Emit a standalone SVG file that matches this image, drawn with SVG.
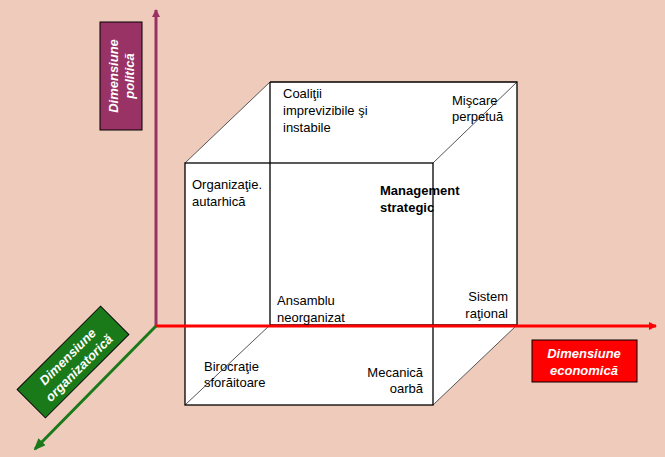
<svg xmlns="http://www.w3.org/2000/svg" width="665" height="457" viewBox="0 0 665 457">
<style>
text{font-family:"Liberation Sans",Arial,sans-serif;font-size:13px;fill:#000}
.lab{fill:#fff;font-weight:bold;font-style:italic;font-size:13px;text-anchor:middle}
.e{stroke:#000;stroke-width:1.3;fill:none}
.d{stroke:#555;stroke-width:1;fill:none}
</style>
<defs>
<marker id="ap" markerWidth="8" markerHeight="8" refX="7" refY="4" orient="auto" markerUnits="userSpaceOnUse"><path d="M0,0L8,4L0,8z" fill="#993366"/></marker>
<marker id="ar" markerWidth="8" markerHeight="8" refX="7" refY="4" orient="auto" markerUnits="userSpaceOnUse"><path d="M0,0L8,4L0,8z" fill="#ff0000"/></marker>
<marker id="ag" markerWidth="12" markerHeight="10" refX="10" refY="5" orient="auto" markerUnits="userSpaceOnUse"><path d="M0,0L12,5L0,10z" fill="#1a7a1a"/></marker>
</defs>
<rect width="665" height="457" fill="#efcbbb"/>
<g id="cube">
<path d="M185,163L270,82L517,82L517,325L433,405L185,405z" fill="#fff"/>
<path class="d" d="M185,163L270,82M433,163L517,82M433,405L517,325M185,405L270,325"/>
<path class="e" d="M270,82L517,82L517,325M270,82L270,325L517,325"/>
<rect class="e" x="185" y="163" width="248" height="242"/>
</g>
<g id="connectors">
<line x1="156" y1="326" x2="156" y2="10" stroke="#993366" stroke-width="3" marker-end="url(#ap)"/>
<line x1="156" y1="326" x2="656" y2="326" stroke="#ff0000" stroke-width="3" marker-end="url(#ar)"/>
<line x1="156" y1="326" x2="35" y2="449" stroke="#1a7a1a" stroke-width="3" marker-end="url(#ag)"/>
</g>
<g id="ax-pol"><rect x="100" y="22" width="42" height="108" fill="#993366" stroke="#000"/>
<text class="lab" transform="translate(121,76) rotate(-90)"><tspan x="0" y="-3">Dimensiune</tspan><tspan x="0" y="13">politică</tspan></text></g>
<g id="ax-eco"><rect x="532" y="340" width="105" height="42" fill="#ff0000" stroke="#000"/>
<text class="lab"><tspan x="584" y="358">Dimensiune</tspan><tspan x="584" y="375">economică</tspan></text></g>
<g id="ax-org" transform="translate(73,362) rotate(-45)"><rect x="-59" y="-20" width="118" height="40" fill="#1a7a1a" stroke="#000"/>
<text class="lab"><tspan x="0" y="-3">Dimensiune</tspan><tspan x="0" y="13">organizatorică</tspan></text></g>
<g id="n1"><text><tspan x="283" y="98">Coaliţii</tspan><tspan x="283" y="115">imprevizibile şi</tspan><tspan x="283" y="132">instabile</tspan></text></g>
<g id="n2"><text><tspan x="452" y="105">Mişcare</tspan><tspan x="452" y="121">perpetuă</tspan></text></g>
<g id="n3"><text><tspan x="192" y="189">Organizaţie.</tspan><tspan x="192" y="206">autarhică</tspan></text></g>
<g id="n4"><text font-weight="bold"><tspan x="380" y="195" font-weight="bold">Management</tspan><tspan x="380" y="212" font-weight="bold">strategic</tspan></text></g>
<g id="n5"><text><tspan x="277" y="305">Ansamblu</tspan><tspan x="277" y="322">neorganizat</tspan></text></g>
<g id="n6"><text text-anchor="end"><tspan x="508" y="301">Sistem</tspan><tspan x="508" y="318">raţional</tspan></text></g>
<g id="n7"><text><tspan x="204" y="371">Birocraţie</tspan><tspan x="204" y="387">sforăitoare</tspan></text></g>
<g id="n8"><text text-anchor="end"><tspan x="423" y="377">Mecanică</tspan><tspan x="423" y="393">oarbă</tspan></text></g>
</svg>
